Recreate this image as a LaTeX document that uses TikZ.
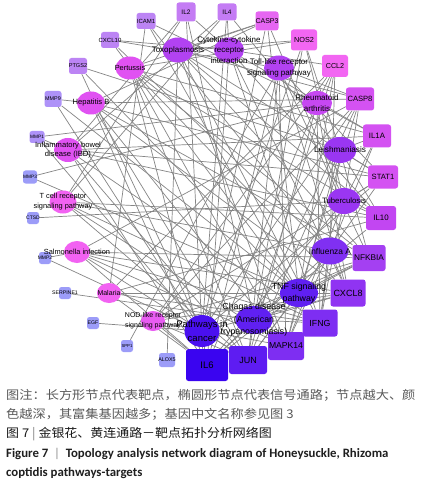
\documentclass[tikz,border=0pt]{standalone}
\usepackage{graphicx}
\usepackage{fontspec}
\setmainfont{Liberation Sans}
\newfontfamily\cjk{Noto Sans CJK SC}
\newfontfamily\capfont{Carlito}
\usetikzlibrary{shapes.geometric,backgrounds}
\newcommand\ptsz[2]{\fontsize{#1bp}{#2bp}\selectfont}
\definecolor{edgegray}{HTML}{858585}
\definecolor{tgA}{HTML}{9C9CF8}
\definecolor{tgB}{HTML}{AE92F8}
\definecolor{tgC}{HTML}{BC84F4}
\definecolor{tgD}{HTML}{C47CF4}
\definecolor{tgE}{HTML}{E666F2}
\definecolor{tgF}{HTML}{F266F2}
\definecolor{tgG}{HTML}{D452F2}
\definecolor{tgH}{HTML}{C246F2}
\definecolor{tgI}{HTML}{A440F2}
\definecolor{tgJ}{HTML}{9034F2}
\definecolor{tgK}{HTML}{7E2EF2}
\definecolor{tgL}{HTML}{5E1CF2}
\definecolor{tgM}{HTML}{3A04F0}
\definecolor{pwA}{HTML}{F262F2}
\definecolor{pwB}{HTML}{E85CF2}
\definecolor{pwC}{HTML}{E052F2}
\definecolor{pwD}{HTML}{C648F2}
\definecolor{pwE}{HTML}{B242F2}
\definecolor{pwF}{HTML}{9A36F2}
\definecolor{pwG}{HTML}{8030F2}
\definecolor{pwH}{HTML}{6020F2}
\definecolor{pwI}{HTML}{4A10F0}
\tikzset{
  target/.style={rectangle, rounded corners=2.5bp, inner sep=0pt},
  pathway/.style={ellipse, inner sep=0pt},
  sz/.style 2 args={minimum width=#1bp, minimum height=#2bp},
  edge/.style={draw=edgegray, line width=0.7bp},
  every label/.style={align=center, inner sep=0pt, text=black, font=\ptsz{8}{10.5}},
  capnote/.style={anchor=west, inner sep=0pt, text=black!65, font=\cjk\ptsz{12}{14}},
  captitle/.style={anchor=west, inner sep=0pt, text=black!90, font=\cjk\ptsz{12}{14}},
  capline/.style={anchor=west, inner sep=0pt, text=black!88, font=\capfont\bfseries\ptsz{12.8}{15}}
}
\begin{document}
\begin{tikzpicture}[x=1bp,y=-1bp]
  \useasboundingbox (0,0) rectangle (422,488);
  \node[target,sz={19}{19},fill=tgD,label={[font=\ptsz{6.5}{8}]center:IL2}] (IL2) at (186,12) {};
  \node[target,sz={19}{17},fill=tgD,label={[font=\ptsz{6.5}{8}]center:IL4}] (IL4) at (227,12) {};
  \node[target,sz={19}{16},fill=tgC,label={[font=\ptsz{6}{7}]center:ICAM1}] (ICAM1) at (146,21) {};
  \node[target,sz={18}{16},fill=tgC,label={[font=\ptsz{6}{7}]center:CXCL10}] (CXCL10) at (110,40) {};
  \node[target,sz={18}{16},fill=tgC,label={[font=\ptsz{5.6}{7}]center:PTGS2}] (PTGS2) at (78,66) {};
  \node[target,sz={17}{16},fill=tgB,label={[font=\ptsz{5.4}{7}]center:MMP9}] (MMP9) at (53,99) {};
  \node[target,sz={15}{12},fill=tgB,label={[font=\ptsz{4.8}{6}]center:MMP1}] (MMP1) at (37,137) {};
  \node[target,sz={14}{13},fill=tgA,label={[font=\ptsz{4.8}{6}]center:MMP3}] (MMP3) at (30,177) {};
  \node[target,sz={12}{12},fill=tgA,label={[font=\ptsz{5}{6}]center:CTSD}] (CTSD) at (33,218) {};
  \node[target,sz={12}{12},fill=tgA,label={[font=\ptsz{5}{6}]center:MMP2}] (MMP2) at (45,258) {};
  \node[target,sz={12}{12},fill=tgA,label={[font=\ptsz{5.2}{6}]center:SERPINE1}] (SERPINE1) at (65,293) {};
  \node[target,sz={12}{12},fill=tgA,label={[font=\ptsz{5.2}{6}]center:EGF}] (EGF) at (93,323) {};
  \node[target,sz={12}{12},fill=tgA,label={[font=\ptsz{4.3}{6}]center:SPP1}] (SPP1) at (127,346) {};
  \node[target,sz={16}{14},fill=tgA,label={[font=\ptsz{5.4}{6}]center:ALOX5}] (ALOX5) at (167,360) {};
  \node[target,sz={23}{19},fill=tgE,label={[font=\ptsz{7}{8}]center:CASP3}] (CASP3) at (267,21) {};
  \node[target,sz={26}{21},fill=tgF,label={[font=\ptsz{7.3}{8}]center:NOS2}] (NOS2) at (304,40) {};
  \node[target,sz={26}{22},fill=tgF,label={[font=\ptsz{7.2}{8}]center:CCL2}] (CCL2) at (335,66) {};
  \node[target,sz={28}{23},fill=tgG,label={[font=\ptsz{7.6}{9}]center:CASP8}] (CASP8) at (360,99) {};
  \node[target,sz={28}{23},fill=tgG,label={[font=\ptsz{7.8}{9}]center:IL1A}] (IL1A) at (377,136) {};
  \node[target,sz={30}{23},fill=tgG,label={[font=\ptsz{7.6}{9}]center:STAT1}] (STAT1) at (383,177) {};
  \node[target,sz={30}{24},fill=tgH,label={[font=\ptsz{7.9}{9}]center:IL10}] (IL10) at (381,218) {};
  \node[target,sz={33}{26},fill=tgI,label={[font=\ptsz{8.3}{9}]center:NFKBIA}] (NFKBIA) at (369,258) {};
  \node[target,sz={35}{27},fill=tgJ,label={[font=\ptsz{9}{10}]center:CXCL8}] (CXCL8) at (348,293) {};
  \node[target,sz={35}{27},fill=tgK,label={[font=\ptsz{8.8}{10}]center:IFNG}] (IFNG) at (320,323) {};
  \node[target,sz={36}{28},fill=tgK,label={[font=\ptsz{8.6}{10}]center:MAPK14}] (MAPK14) at (286,346) {};
  \node[target,sz={38}{28},fill=tgL,label={[font=\ptsz{9}{10}]center:JUN}] (JUN) at (248,360) {};
  \node[target,sz={42}{32},fill=tgM,label={[font=\ptsz{9.5}{11}]center:IL6}] (IL6) at (207,365) {};
  \node[pathway,sz={31}{25},fill=pwE,label={center:Toxoplasmosis}] (toxo) at (178,50) {};
  \node[pathway,sz={30}{25},fill=pwE,label={center:Cytokine-cytokine\\receptor\\interaction}] (cytokine) at (229,50) {};
  \node[pathway,sz={30}{25},fill=pwE,label={center:Toll-like receptor\\signaling pathway}] (toll) at (279,68) {};
  \node[pathway,sz={29}{23},fill=pwC,label={[font=\ptsz{7.4}{9}]center:Pertussis}] (pertussis) at (130,68) {};
  \node[pathway,sz={28}{23},fill=pwC,label={[font=\ptsz{7.6}{9}]center:Hepatitis B}] (hepB) at (91,103) {};
  \node[pathway,sz={30}{24},fill=pwD,label={center:Rheumatoid\\arthritis}] (rheum) at (317,103) {};
  \node[pathway,sz={33}{26},fill=pwF,label={[font=\ptsz{8.2}{10}]center:Leishmaniasis}] (leish) at (340,150) {};
  \node[pathway,sz={33}{26},fill=pwF,label={[font=\ptsz{7.8}{10}]center:Tuberculosis}] (tb) at (344,201) {};
  \node[pathway,sz={37}{27},fill=pwG,label={[font=\ptsz{8.4}{10}]center:Influenza A}] (fluA) at (330,251) {};
  \node[pathway,sz={38}{28},fill=pwH,label={[font=\ptsz{8.8}{12.5}]center:TNF signaling\\pathway}] (tnf) at (299,293) {};
  \node[pathway,sz={37}{28},fill=pwH,label={[font=\ptsz{8.8}{12.5}]center:Chagas disease\\(American\\trypanosomiasis)}] (chagas) at (254,320) {};
  \node[pathway,sz={35}{32},fill=pwI,label={[font=\ptsz{9.5}{14}]center:Pathways in\\cancer}] (cancer) at (202,331) {};
  \node[pathway,sz={24}{20},fill=pwB,label={[font=\ptsz{7}{10}]center:NOD-like receptor\\signaling pathway}] (nod) at (153,321) {};
  \node[pathway,sz={24}{20},fill=pwA,label={[font=\ptsz{7}{9}]center:Malaria}] (malaria) at (109,293) {};
  \node[pathway,sz={26}{22},fill=pwA,label={[font=\ptsz{7.4}{9}]center:Salmonella infection}] (salmonella) at (77,252) {};
  \node[pathway,sz={27}{23},fill=pwA,label={[font=\ptsz{7.4}{10}]center:T cell receptor\\signaling pathway}] (tcell) at (63,202) {};
  \node[pathway,sz={28}{24},fill=pwC,label={[font=\ptsz{7.6}{9.5}]center:Inflammatory bowel\\disease (IBD)}] (ibd) at (68,150) {};
  \begin{scope}[on background layer]
    \fill[white] (0,0) rectangle (422,488);
    \foreach \t in {IL6,JUN,CXCL8,NFKBIA,STAT1,CASP8,CASP3,PTGS2,MMP9,MMP1,MMP2,EGF,IL2,IL4,NOS2}
      \draw[edge] (cancer) -- (\t);
    \foreach \t in {IL6,JUN,MAPK14,IFNG,CXCL8,NFKBIA,IL10,CASP8,CCL2,NOS2,IL2,SERPINE1}
      \draw[edge] (chagas) -- (\t);
    \foreach \t in {IL6,JUN,MAPK14,NFKBIA,CASP8,CASP3,CCL2,ICAM1,CXCL10,PTGS2,MMP9,MMP3}
      \draw[edge] (tnf) -- (\t);
    \foreach \t in {IL6,JUN,MAPK14,IFNG,CXCL8,NFKBIA,STAT1,IL1A,CCL2,CXCL10,ICAM1}
      \draw[edge] (fluA) -- (\t);
    \foreach \t in {IL10,IFNG,MAPK14,JUN,NFKBIA,STAT1,IL1A,NOS2,PTGS2,IL4}
      \draw[edge] (leish) -- (\t);
    \foreach \t in {IL6,IL10,IFNG,MAPK14,STAT1,IL1A,NOS2,CASP8,CTSD,CASP3}
      \draw[edge] (tb) -- (\t);
    \foreach \t in {IL10,IFNG,MAPK14,NFKBIA,STAT1,NOS2,CASP8,CASP3,ALOX5}
      \draw[edge] (toxo) -- (\t);
    \foreach \t in {IL6,IL2,IL4,IL10,IFNG,CXCL8,CCL2,CXCL10,IL1A}
      \draw[edge] (cytokine) -- (\t);
    \foreach \t in {IL6,JUN,MAPK14,CXCL8,NFKBIA,STAT1,CASP8,CXCL10,SPP1}
      \draw[edge] (toll) -- (\t);
    \foreach \t in {IL6,JUN,IFNG,CXCL8,CCL2,ICAM1,IL1A,MMP1,MMP3}
      \draw[edge] (rheum) -- (\t);
    \foreach \t in {IL6,JUN,MAPK14,CXCL8,NFKBIA,IL10,NOS2,IL1A,CASP3}
      \draw[edge] (pertussis) -- (\t);
    \foreach \t in {IL6,JUN,MAPK14,CXCL8,NFKBIA,STAT1,CASP8,CASP3,MMP9}
      \draw[edge] (hepB) -- (\t);
    \foreach \t in {IL6,JUN,IFNG,IL2,IL4,IL10,STAT1,IL1A,MMP1}
      \draw[edge] (ibd) -- (\t);
    \foreach \t in {IL6,JUN,MAPK14,CXCL8,NFKBIA,CASP8,CCL2,STAT1}
      \draw[edge] (nod) -- (\t);
    \foreach \t in {IL6,IFNG,CXCL8,IL10,CCL2,ICAM1}
      \draw[edge] (malaria) -- (\t);
    \foreach \t in {IL6,JUN,MAPK14,CXCL8,NFKBIA,IFNG,CASP8,MMP2}
      \draw[edge] (salmonella) -- (\t);
    \foreach \t in {IL2,IL4,IL10,IFNG,JUN,MAPK14,NFKBIA}
      \draw[edge] (tcell) -- (\t);
  \end{scope}
  \node[capnote] (note1) at (6,395) {\scalebox{1.1}[1]{图注：长方形节点代表靶点，椭圆形节点代表信号通路；节点越大、颜}};
  \node[capnote] (note2) at (6,414) {\scalebox{1.1}[1]{色越深，其富集基因越多；基因中文名称参见图 3}};
  \node[captitle] (title) at (6,434) {\scalebox{1.08}[1]{图 7 {\color{black!50}|} 金银花、黄连通路－靶点拓扑分析网络图}};
  \node[capline] (figline1) at (6,454) {Figure 7 \ {\color{black!45}\mdseries|}\ \ Topology analysis network diagram of Honeysuckle, Rhizoma};
  \node[capline] (figline2) at (6,473) {coptidis pathways-targets};
\end{tikzpicture}
\end{document}
